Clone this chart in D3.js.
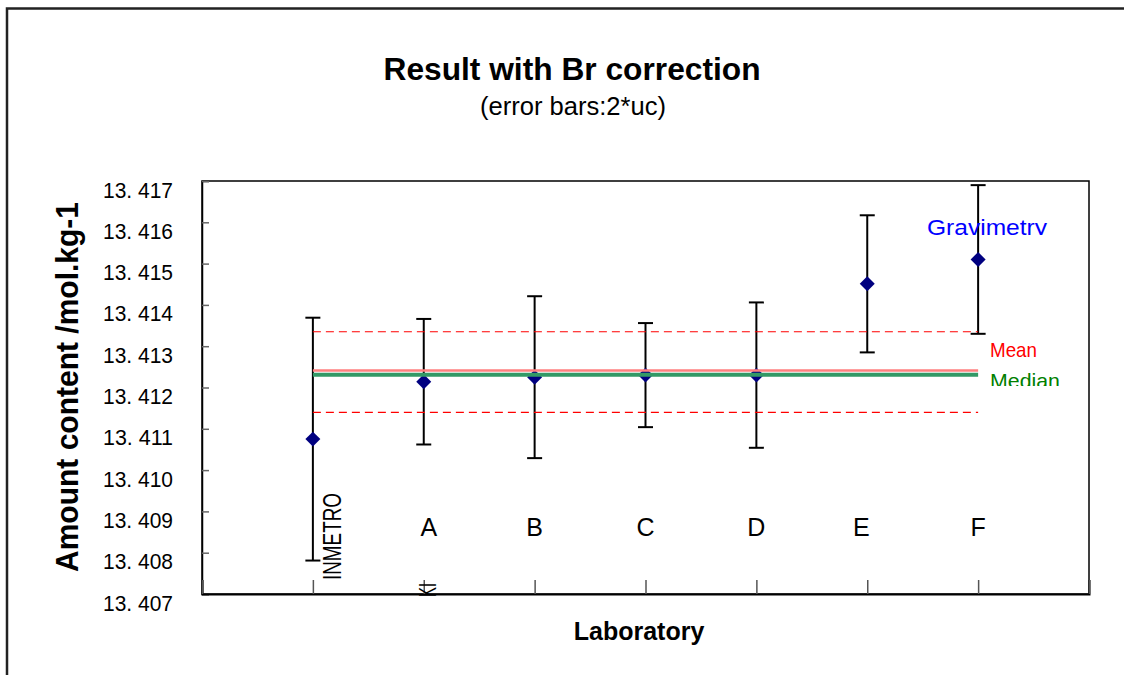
<!DOCTYPE html>
<html lang="en">
<head>
<meta charset="UTF-8">
<title>Result with Br correction</title>
<script src="https://d3js.org/d3.v7.min.js"></script>
<style>
  body { margin: 0; background: #fff; }
  text { font-family: "Liberation Sans", Arial, sans-serif; }
</style>
</head>
<body>
<div id="chart"></div>
<script>
// data
var labs = ["INMETRO", "A", "B", "C", "D", "E", "F"];
var pos = [1, 2, 3, 4, 5, 6, 7];
var values = [13.41075, 13.41214, 13.41225, 13.41230, 13.41230, 13.41451, 13.41510];
var U = [0.00294, 0.00152, 0.00196, 0.00126, 0.00176, 0.00166, 0.00180]; // 2*uc
var meanVal = 13.41241;
var medianVal = 13.41231;
var bandLow = 13.41140, bandHigh = 13.41335;
var yTicks = [13.407, 13.408, 13.409, 13.410, 13.411, 13.412, 13.413, 13.414, 13.415, 13.416, 13.417];
var yTickLabels = ["13. 407", "13. 408", "13. 409", "13. 410", "13. 411", "13. 412",
                   "13. 413", "13. 414", "13. 415", "13. 416", "13. 417"];
var xTicks = [0, 1, 2, 3, 4, 5, 6, 7, 8];
var labelNudge = [0, 5, 0, 0, 0, -6, 0];

var W = 1124, H = 675;
var plot = {left: 202, top: 181, right: 1089, bottom: 594};

var svg = d3.select("#chart").append("svg")
    .attr("width", W).attr("height", H);

// outer frame
svg.append("rect")
    .attr("x", 7).attr("y", 8.5).attr("width", 1300).attr("height", 900)
    .attr("fill", "none").attr("stroke", "#222").attr("stroke-width", 2.5);

var x = d3.scaleLinear().domain([0, 8]).range([plot.left, plot.right]);
var y = d3.scaleLinear().domain([13.407, 13.417]).range([plot.bottom, plot.top]);

// title
svg.append("text")
    .attr("x", 572).attr("y", 80)
    .attr("text-anchor", "middle")
    .attr("textLength", 377).attr("lengthAdjust", "spacingAndGlyphs")
    .style("font-size", "32px").style("font-weight", "bold")
    .text("Result with Br correction");
svg.append("text")
    .attr("x", 573).attr("y", 115)
    .attr("text-anchor", "middle")
    .attr("textLength", 186).attr("lengthAdjust", "spacingAndGlyphs")
    .style("font-size", "25px")
    .text("(error bars:2*uc)");

// plot box
svg.append("rect")
    .attr("x", plot.left).attr("y", plot.top)
    .attr("width", plot.right - plot.left).attr("height", plot.bottom - plot.top)
    .attr("fill", "#fff").attr("stroke", "#000").attr("stroke-width", 1.5);

// y axis, ticks pointing inwards
var yAxis = svg.append("g")
    .attr("transform", "translate(" + plot.left + ",0)")
    .call(d3.axisLeft(y).tickValues(yTicks).tickSize(-7).tickPadding(29)
        .tickFormat(function(d, i) { return yTickLabels[i]; }));
yAxis.select(".domain").attr("stroke", "#000").attr("stroke-width", 1.5);
yAxis.selectAll(".tick line").attr("stroke", "#666").attr("stroke-width", 1.5);
yAxis.selectAll(".tick text")
    .attr("dy", 16)
    .style("font-size", "22px").style("font-family", "Liberation Sans, Arial, sans-serif")
    .attr("textLength", 70).attr("lengthAdjust", "spacingAndGlyphs")
    .attr("fill", "#000");

// x axis, ticks pointing up
var xAxis = svg.append("g")
    .attr("transform", "translate(0," + plot.bottom + ")")
    .call(d3.axisBottom(x).tickValues(xTicks).tickSize(-14).tickFormat(""));
xAxis.select(".domain").attr("stroke", "#000").attr("stroke-width", 2);
xAxis.selectAll(".tick line").attr("stroke", "#555").attr("stroke-width", 1.5);

// axis titles
svg.append("text")
    .attr("transform", "translate(78," + 387 + ") rotate(-90)")
    .attr("text-anchor", "middle")
    .attr("textLength", 370).attr("lengthAdjust", "spacingAndGlyphs")
    .style("font-size", "31px").style("font-weight", "bold")
    .text("Amount content /mol.kg-1");
svg.append("text")
    .attr("x", 639).attr("y", 640)
    .attr("text-anchor", "middle")
    .style("font-size", "25px").style("font-weight", "bold")
    .text("Laboratory");

// error bars
var bars = svg.append("g").attr("stroke", "#000").attr("stroke-width", 2);
bars.selectAll("line.v").data(values).enter().append("line")
    .attr("x1", function(d, i) { return x(pos[i]); })
    .attr("x2", function(d, i) { return x(pos[i]); })
    .attr("y1", function(d, i) { return y(d + U[i]); })
    .attr("y2", function(d, i) { return y(d - U[i]); });
bars.selectAll("line.top").data(values).enter().append("line")
    .attr("x1", function(d, i) { return x(pos[i]) - 7.5; })
    .attr("x2", function(d, i) { return x(pos[i]) + 7.5; })
    .attr("y1", function(d, i) { return y(d + U[i]); })
    .attr("y2", function(d, i) { return y(d + U[i]); });
bars.selectAll("line.bot").data(values).enter().append("line")
    .attr("x1", function(d, i) { return x(pos[i]) - 7.5; })
    .attr("x2", function(d, i) { return x(pos[i]) + 7.5; })
    .attr("y1", function(d, i) { return y(d - U[i]); })
    .attr("y2", function(d, i) { return y(d - U[i]); });

// diamonds
svg.append("g").selectAll("path").data(values).enter().append("path")
    .attr("d", d3.symbol().type(d3.symbolSquare).size(112))
    .attr("transform", function(d, i) {
        return "translate(" + x(pos[i]) + "," + y(d) + ") rotate(45)";
    })
    .attr("fill", "#000080");

// reference lines
function hline(v, color, width, dash) {
    svg.append("line")
        .attr("x1", x(1)).attr("x2", x(7))
        .attr("y1", y(v)).attr("y2", y(v))
        .attr("stroke", color).attr("stroke-width", width)
        .attr("stroke-dasharray", dash || null);
}
hline(bandHigh, "#ff0000", 1.2, "8,5");
hline(bandLow, "#ff0000", 1.2, "8,5");
hline(meanVal, "#ff7f7f", 2.5);
hline(medianVal, "#339966", 4);

// category labels
svg.append("g").selectAll("text").data(labs.slice(1)).enter().append("text")
    .attr("x", function(d, i) { return x(pos[i + 1]) + labelNudge[i + 1]; })
    .attr("y", 536)
    .attr("text-anchor", "middle")
    .style("font-size", "25px")
    .text(function(d) { return d; });
svg.append("text")
    .attr("transform", "translate(" + (x(pos[0]) + 28) + ",580) rotate(-90)")
    .attr("textLength", 87).attr("lengthAdjust", "spacingAndGlyphs")
    .style("font-size", "26px")
    .text(labs[0]);
svg.append("text")
    .attr("transform", "translate(" + (x(pos[1]) + 12) + ",597) rotate(-90)")
    .attr("textLength", 14).attr("lengthAdjust", "spacingAndGlyphs")
    .style("font-size", "23px")
    .text("KI");

// line / series labels (clipped like the original text boxes)
var defs = svg.append("defs");
defs.append("clipPath").attr("id", "clipGrav")
    .append("rect").attr("x", 900).attr("y", 200).attr("width", 200).attr("height", 35);
defs.append("clipPath").attr("id", "clipMed")
    .append("rect").attr("x", 980).attr("y", 360).attr("width", 120).attr("height", 26);

svg.append("text")
    .attr("x", 927).attr("y", 235)
    .attr("clip-path", "url(#clipGrav)")
    .attr("textLength", 120).attr("lengthAdjust", "spacingAndGlyphs")
    .style("font-size", "22px").attr("fill", "#0000ff")
    .text("Gravimetry");
svg.append("text")
    .attr("x", 990).attr("y", 357)
    .attr("textLength", 47).attr("lengthAdjust", "spacingAndGlyphs")
    .style("font-size", "21px").attr("fill", "#ff0000")
    .text("Mean");
svg.append("text")
    .attr("x", 990).attr("y", 388)
    .attr("clip-path", "url(#clipMed)")
    .attr("textLength", 70).attr("lengthAdjust", "spacingAndGlyphs")
    .style("font-size", "21px").attr("fill", "#008000")
    .text("Median");
</script>
</body>
</html>
